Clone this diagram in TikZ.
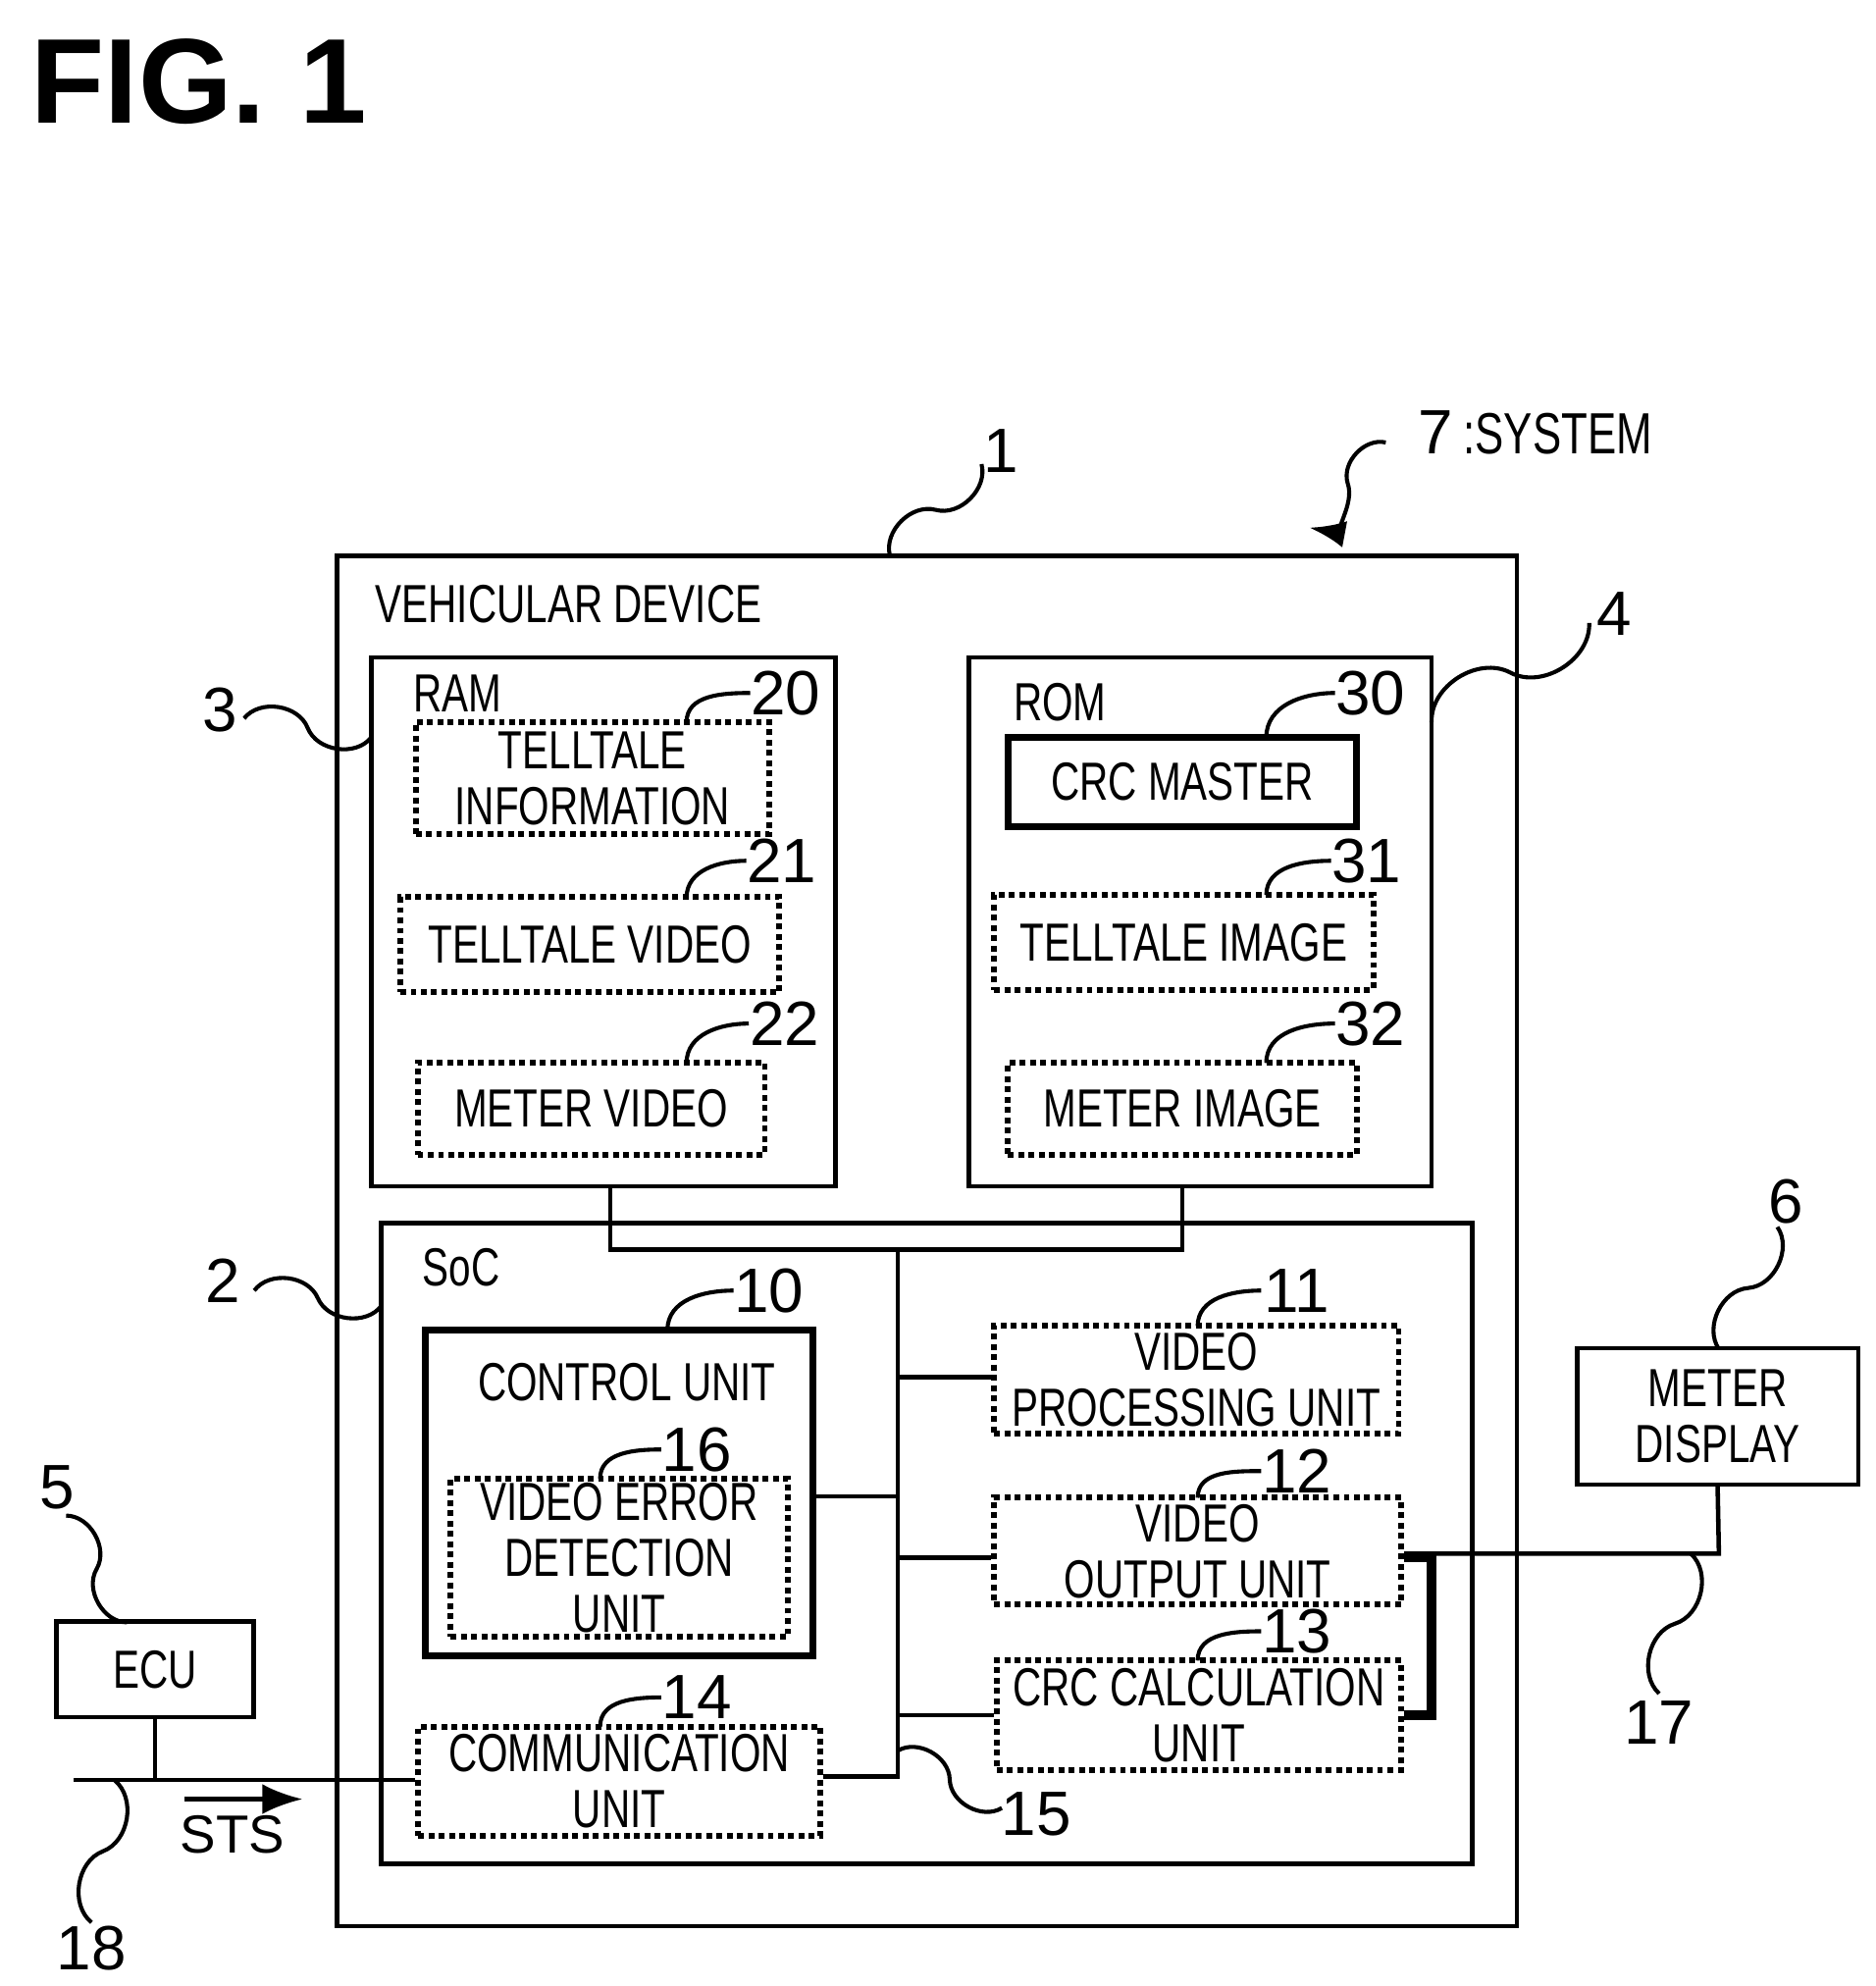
\documentclass[tikz,border=0pt]{standalone}
\usepackage{fontspec}
\setmainfont{Liberation Sans}[FakeStretch=0.74]
\newfontfamily\numfont{Liberation Sans}
\usetikzlibrary{calc, arrows.meta}
\tikzset{
    frame/.style = {draw, line width=1pt},
    unit/.style = {draw, densely dotted, line width=1.3pt, align=center, inner sep=0pt, font=\fontsize{12}{12.5}\selectfont},
    solid unit/.style = {unit, solid, line width=1.6pt},
    label text/.style = {font=\fontsize{12}{12.5}\selectfont},
    num/.style = {font=\numfont\fontsize{14}{14}\selectfont},
    lead/.style = {line width=0.9pt},
    wire/.style = {line width=1pt}
}
\newcommand{\squig}[2]{\draw[lead] (#1) to[bend left=60] ($(#1)!.5!(#2)$) to[bend right=60] (#2);}
\begin{document}
\begin{tikzpicture}[x=0.01cm, y=-0.01cm]
        \useasboundingbox (0,0) rectangle (1475,1562);
        \node[anchor=north west, font=\numfont\bfseries\fontsize{27}{27}\selectfont] at (12,18) {FIG. 1};

        % outer boxes
        \draw[frame] (265,437) rectangle (1193,1515);
        \node[label text, anchor=west] at (283,475) {VEHICULAR DEVICE};
        \draw[frame] (292,517) rectangle (657,933);
        \node[label text, anchor=west] at (313,545) {RAM};
        \draw[frame] (762,517) rectangle (1126,933);
        \node[label text, anchor=west] at (785,552) {ROM};
        \draw[frame] (300,962) rectangle (1158,1466);
        \node[label text, anchor=west] at (320,997) {SoC};

        % RAM contents
        \node[unit, minimum width=2.78cm, minimum height=0.88cm] (tinfo) at (466,612) {TELLTALE\\INFORMATION};
        \node[unit, minimum width=2.98cm, minimum height=0.75cm] (tvideo) at (464,743) {TELLTALE VIDEO};
        \node[unit, minimum width=2.73cm, minimum height=0.72cm] (mvideo) at (465,872) {METER VIDEO};

        % ROM contents
        \node[solid unit, minimum width=2.74cm, minimum height=0.70cm] (crcm) at (930,615) {CRC MASTER};
        \node[unit, minimum width=2.98cm, minimum height=0.75cm] (timage) at (931,741) {TELLTALE IMAGE};
        \node[unit, minimum width=2.74cm, minimum height=0.72cm] (mimage) at (930,872) {METER IMAGE};

        % SoC contents
        \node[solid unit, minimum width=3.05cm, minimum height=2.56cm] (ctrl) at (487,1174) {};
        \node[label text] at (493,1087) {CONTROL UNIT};
        \node[unit, minimum width=2.65cm, minimum height=1.24cm] (ved) at (487,1225) {VIDEO ERROR\\DETECTION\\UNIT};
        \node[unit, minimum width=3.18cm, minimum height=0.85cm] (vproc) at (941,1085) {VIDEO\\PROCESSING UNIT};
        \node[unit, minimum width=3.20cm, minimum height=0.84cm] (vout) at (942,1220) {VIDEO\\OUTPUT UNIT};
        \node[unit, minimum width=3.18cm, minimum height=0.86cm] (crcc) at (943,1349) {CRC CALCULATION\\UNIT};
        \node[unit, minimum width=3.16cm, minimum height=0.86cm] (comm) at (487,1401) {COMMUNICATION\\UNIT};

        % outside devices
        \node[frame, minimum width=2.21cm, minimum height=1.07cm, align=center, font=\fontsize{12}{12.5}\selectfont] (meter) at (1351,1114) {METER\\DISPLAY};
        \node[frame, minimum width=1.55cm, minimum height=0.75cm, font=\fontsize{12}{12.5}\selectfont] (ecu) at (122,1313) {ECU};

        % bus
        \coordinate (bt) at (706,983);
        \coordinate (bb) at (706,1397);
        \draw[wire] (480,933) -- (480,983) -- (930,983) -- (930,933);
        \draw[wire] (bt) -- (bb) -- (comm.east |- bb);
        \draw[wire] (ctrl.east |- 0,1177) -- (706,1177);
        \draw[wire] (706,1083) -- (vproc.west |- 0,1083);
        \draw[wire] (706,1225) -- (vout.west |- 0,1225);
        \draw[wire] (706,1349) -- (crcc.west);
        \draw[line width=2pt] (vout.east |- 0,1225) -- (1126,1225) -- (1126,1349) -- (crcc.east);
        \draw[wire] (vout.east |- 0,1222) -- (1352,1222) -- (meter.south);
        \coordinate (lnl) at (58,1400);
        \draw[wire] (lnl) -- (comm.west |- lnl);
        \draw[wire] (ecu.south) -- (ecu.south |- lnl);
        \coordinate (stsa) at (145,1415);
        \coordinate (stsb) at (238,1415);
        \draw[wire, -{Latex[length=9pt]}] (stsa) -- (stsb);
        \node[font=\numfont\fontsize{12}{12}\selectfont] at (183,1443) {STS};

        % reference numbers
        \node[num] (n1) at (787,355) {1};
        \squig{700,437}{772,365}
        \node[num, anchor=west] (n7) at (1103,340) {7\,\normalfont\fontsize{13}{13}\selectfont :SYSTEM};
        \draw[lead, -{Latex[length=8pt]}] (1090,348) to[bend right=60] (1060,380) to[bend left=60] (1030,415);
        \node[num] (n3) at (173,558) {3};
        \squig{292,580}{192,565}
        \node[num] (n4) at (1270,483) {4};
        \squig{1126,568}{1250,490}
        \node[num] (n2) at (175,1007) {2};
        \squig{300,1027}{200,1015}
        \node[num] (n20) at (618,545) {20};
        \draw[lead] (540,568) to[out=90,in=180] (590,545);
        \node[num] (n21) at (615,677) {21};
        \draw[lead] (540,706) to[out=90,in=180] (587,677);
        \node[num] (n22) at (617,805) {22};
        \draw[lead] (540,836) to[out=90,in=180] (589,805);
        \node[num] (n30) at (1078,545) {30};
        \draw[lead] (996,580) to[out=90,in=180] (1050,545);
        \node[num] (n31) at (1075,677) {31};
        \draw[lead] (996,704) to[out=90,in=180] (1047,677);
        \node[num] (n32) at (1078,805) {32};
        \draw[lead] (996,836) to[out=90,in=180] (1050,805);
        \node[num] (n10) at (605,1015) {10};
        \draw[lead] (525,1046) to[out=90,in=180] (577,1015);
        \node[num] (n16) at (548,1140) {16};
        \draw[lead] (472,1163) to[out=90,in=180] (520,1140);
        \node[num] (n11) at (1020,1015) {11};
        \draw[lead] (942,1043) to[out=90,in=180] (992,1015);
        \node[num] (n12) at (1020,1157) {12};
        \draw[lead] (942,1178) to[out=90,in=180] (992,1157);
        \node[num] (n13) at (1020,1283) {13};
        \draw[lead] (942,1306) to[out=90,in=180] (992,1283);
        \node[num] (n14) at (548,1335) {14};
        \draw[lead] (472,1358) to[out=90,in=180] (520,1335);
        \node[num] (n15) at (815,1427) {15};
        \squig{706,1377}{788,1422}
        \node[num] (n6) at (1405,945) {6};
        \squig{1352,1061}{1398,965}
        \node[num] (n17) at (1305,1355) {17};
        \squig{1330,1222}{1305,1332}
        \node[num] (n5) at (45,1170) {5};
        \squig{100,1276}{52,1192}
        \node[num] (n18) at (72,1532) {18};
        \squig{90,1400}{72,1512}
    \end{tikzpicture}
\end{document}
